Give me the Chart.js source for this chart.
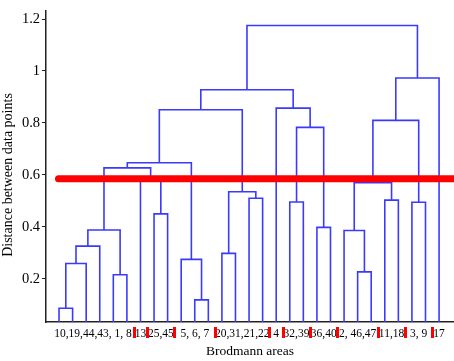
<!DOCTYPE html>
<html>
<head>
<meta charset="utf-8">
<script src="https://cdn.jsdelivr.net/npm/chart.js@4.4.0/dist/chart.umd.min.js"></script>
<style>
  html, body { margin: 0; padding: 0; background: #fff; }
</style>
</head>
<body>
<canvas id="chart" width="454" height="361"></canvas>
<script>
// Leaf order along the x axis (Brodmann areas)
const leaves = ['10','19','44','43','1','8','13','25','45','5','6','7','20','31','21','22','4','32','39','36','40','2','46','47','11','18','3','9','17'];

// Linkage: [left node, right node, height]. Nodes 0..28 are leaves, 29 and up are earlier merges
const merges = [
  [0, 1, 0.087],    // 29  10,19
  [29, 2, 0.259],   // 30  +44
  [30, 3, 0.326],   // 31  +43
  [4, 5, 0.216],    // 32  1,8
  [31, 32, 0.388],  // 33
  [7, 8, 0.45],     // 34  25,45
  [6, 34, 0.58],    // 35  13 + (25,45)
  [33, 35, 0.627],  // 36
  [10, 11, 0.119],  // 37  6,7
  [9, 37, 0.275],   // 38  5 + (6,7)
  [36, 38, 0.647],  // 39
  [12, 13, 0.298],  // 40  20,31
  [14, 15, 0.51],   // 41  21,22
  [40, 41, 0.535],  // 42
  [39, 42, 0.851],  // 43
  [17, 18, 0.496],  // 44  32,39
  [19, 20, 0.398],  // 45  36,40
  [44, 45, 0.783],  // 46
  [16, 46, 0.857],  // 47  4 + ...
  [43, 47, 0.928],  // 48
  [22, 23, 0.227],  // 49  46,47
  [21, 49, 0.386],  // 50  2 + (46,47)
  [24, 25, 0.503],  // 51  11,18
  [50, 51, 0.57],   // 52
  [26, 27, 0.495],  // 53  3,9
  [52, 53, 0.81],   // 54
  [54, 28, 0.973],  // 55  +17
  [48, 55, 1.175]   // 56  root
];

// Groups below the cut, as written under the axis
const groupLabels = ['10,19,44,43, 1, 8', '13', '25,45', '5, 6, 7', '20,31,21,22', '4', '32,39', '36,40', '2, 46,47', '11,18', '3, 9', '17'];
const groupSizes = [6, 1, 2, 3, 4, 1, 2, 2, 3, 2, 2, 1];

const cutHeight = 0.585;
const yTicks = [0.2, 0.4, 0.6, 0.8, 1, 1.2];
const yMin = 0.034, yMax = 1.232;
const xMin = 0.04, xMax = 30.1;

// build the dendrogram polyline (null points break it between links)
const nodeX = leaves.map((_, i) => i + 1);
const nodeY = leaves.map(() => yMin);
const treePoints = [];
merges.forEach(([a, b, h]) => {
  treePoints.push({x: nodeX[a], y: nodeY[a]}, {x: nodeX[a], y: h},
                  {x: nodeX[b], y: h}, {x: nodeX[b], y: nodeY[b]},
                  {x: nodeX[b], y: null});
  nodeX.push((nodeX[a] + nodeX[b]) / 2);
  nodeY.push(h);
});

// group centres and separators in leaf units
const groupCenters = [];
const separators = [];
let start = 1;
groupSizes.forEach((n, i) => {
  groupCenters.push(start + (n - 1) / 2);
  start += n;
  if (i < groupSizes.length - 1) separators.push(start - 0.5);
});

const serif = '"Liberation Serif", "Times New Roman", serif';

const extras = {
  id: 'extras',
  afterDraw(chart) {
    const {ctx, chartArea} = chart;
    const x = chart.scales.x;
    ctx.save();
    ctx.fillStyle = '#ff0000';
    separators.forEach(v => {
      const px = Math.round(x.getPixelForValue(v));
      ctx.fillRect(px - 1, chartArea.bottom + 5, 3, 11);
    });
    // y axis title
    ctx.translate(8, 175);
    ctx.rotate(-Math.PI / 2);
    ctx.fillStyle = '#000';
    ctx.font = '14px ' + serif;
    ctx.textAlign = 'center';
    ctx.textBaseline = 'middle';
    ctx.fillText('Distance between data points', 0, 0);
    ctx.restore();
  }
};

new Chart(document.getElementById('chart'), {
  type: 'scatter',
  data: {
    datasets: [{
      data: [{x: 0.96, y: cutHeight}, {x: xMax, y: cutHeight}],
      showLine: true,
      borderColor: '#ff0000',
      borderWidth: 7,
      borderCapStyle: 'round',
      pointRadius: 0,
      order: 0
    }, {
      data: treePoints,
      showLine: true,
      spanGaps: false,
      borderColor: '#3a3aff',
      borderWidth: 1.6,
      pointRadius: 0,
      order: 1
    }]
  },
  options: {
    responsive: false,
    animation: false,
    devicePixelRatio: 1,
    layout: { padding: { top: 5, left: 0, right: 0, bottom: 0 } },
    plugins: { legend: { display: false }, tooltip: { enabled: false } },
    scales: {
      x: {
        type: 'linear',
        min: xMin,
        max: xMax,
        afterBuildTicks: s => { s.ticks = groupCenters.map(v => ({value: v})); },
        afterFit: s => { s.height = 39; },
        grid: { drawOnChartArea: false, drawTicks: false },
        border: { color: '#222', width: 1.5 },
        ticks: {
          autoSkip: false,
          maxRotation: 0,
          padding: 5,
          color: '#000',
          font: { family: serif, size: 11.5 },
          callback: (v, i) => groupLabels[i]
        },
        title: {
          display: true,
          text: 'Brodmann areas',
          color: '#000',
          font: { family: serif, size: 13.5 },
          padding: { top: 0, bottom: 1 }
        }
      },
      y: {
        min: yMin,
        max: yMax,
        afterBuildTicks: s => { s.ticks = yTicks.map(v => ({value: v})); },
        afterFit: s => { s.width = 46; },
        grid: { drawOnChartArea: false, drawTicks: true, tickLength: 4, color: '#222' },
        border: { color: '#222', width: 1.5 },
        ticks: {
          padding: 2,
          color: '#000',
          font: { family: serif, size: 14.5 },
          callback: v => String(v)
        }
      }
    }
  },
  plugins: [extras]
});
</script>
</body>
</html>
